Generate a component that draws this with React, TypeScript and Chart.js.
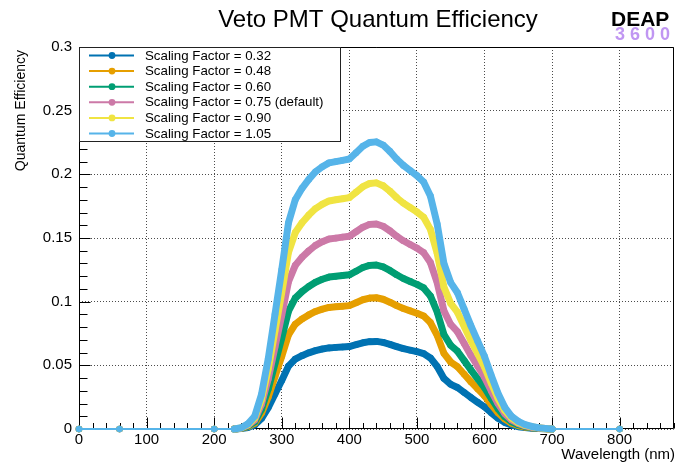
import React, { useEffect, useRef } from 'react';
import { Chart, registerables } from 'chart.js';

Chart.register(...registerables);

const FONT = '"Liberation Sans", Arial, Helvetica, sans-serif';

const chartTitle = 'Veto PMT Quantum Efficiency';
const xAxisTitle = 'Wavelength (nm)';
const yAxisTitle = 'Quantum Efficiency';

const wavelengths = [
  0, 60, 200,
  230, 240, 250, 260, 270, 280, 290, 300, 310, 320, 330, 340, 350, 360, 370, 380, 390, 400,
  410, 420, 430, 440, 450, 460, 470, 480, 490, 500, 510, 520, 530, 540, 550, 560, 570, 580,
  590, 600, 610, 620, 630, 640, 650, 660, 670, 680, 690, 700,
  800,
];

const sf032 = [
  0, 0, 0,
  0, 0.0003, 0.0012, 0.0031, 0.0082, 0.0168, 0.0275, 0.0381, 0.0494, 0.0549, 0.0576, 0.0598, 0.0616, 0.0628, 0.0637, 0.0641, 0.0644, 0.0647,
  0.0662, 0.0677, 0.0686, 0.0688, 0.068, 0.0665, 0.0647, 0.0631, 0.0619, 0.0607, 0.0592, 0.0558, 0.0491, 0.0397, 0.0351, 0.0326, 0.0287, 0.0247,
  0.021, 0.0174, 0.0128, 0.0085, 0.0052, 0.0031, 0.0018, 0.0011, 0.0006, 0.0003, 0.0002, 0,
  0,
];

const sf048 = [
  0, 0, 0,
  0, 0.0005, 0.0018, 0.0046, 0.0123, 0.0251, 0.0411, 0.0571, 0.074, 0.0823, 0.0864, 0.0896, 0.0923, 0.0941, 0.0955, 0.096, 0.0964, 0.0969,
  0.0992, 0.1015, 0.1028, 0.1031, 0.1019, 0.0996, 0.0969, 0.0946, 0.0928, 0.0909, 0.0887, 0.0836, 0.0736, 0.0594, 0.0526, 0.0489, 0.043, 0.037,
  0.0315, 0.026, 0.0192, 0.0128, 0.0078, 0.0046, 0.0027, 0.0016, 0.0009, 0.0005, 0.0002, 0,
  0,
];

const sf060 = [
  0, 0, 0,
  0, 0.0006, 0.0023, 0.0057, 0.0154, 0.0314, 0.0514, 0.0714, 0.0925, 0.1028, 0.1079, 0.1119, 0.1153, 0.1176, 0.1193, 0.1199, 0.1205, 0.1211,
  0.1239, 0.1268, 0.1285, 0.1288, 0.1273, 0.1245, 0.1211, 0.1182, 0.1159, 0.1136, 0.1108, 0.1045, 0.0919, 0.0742, 0.0657, 0.0611, 0.0537, 0.0463,
  0.0394, 0.0325, 0.024, 0.016, 0.0097, 0.0057, 0.0034, 0.002, 0.0011, 0.0006, 0.0003, 0,
  0,
];

const sf075 = [
  0, 0, 0,
  0, 0.0007, 0.0029, 0.0071, 0.0193, 0.0393, 0.0643, 0.0893, 0.1157, 0.1285, 0.1349, 0.1399, 0.1442, 0.1471, 0.1492, 0.1499, 0.1507, 0.1514,
  0.1549, 0.1585, 0.1607, 0.161, 0.1592, 0.1557, 0.1514, 0.1478, 0.1449, 0.1421, 0.1385, 0.1307, 0.115, 0.0928, 0.0821, 0.0764, 0.0671, 0.0578,
  0.0493, 0.0407, 0.03, 0.02, 0.0121, 0.0071, 0.0043, 0.0025, 0.0014, 0.0007, 0.0004, 0,
  0,
];

const sf090 = [
  0, 0, 0,
  0, 0.0009, 0.0034, 0.0086, 0.0231, 0.0471, 0.0771, 0.1071, 0.1388, 0.1543, 0.162, 0.168, 0.1731, 0.1765, 0.1791, 0.18, 0.1808, 0.1817,
  0.186, 0.1903, 0.1928, 0.1933, 0.1911, 0.1868, 0.1817, 0.1774, 0.174, 0.1705, 0.1663, 0.1568, 0.138, 0.1114, 0.0986, 0.0917, 0.0806, 0.0694,
  0.0591, 0.0488, 0.036, 0.024, 0.0146, 0.0086, 0.0051, 0.003, 0.0017, 0.0009, 0.0004, 0,
  0,
];

const sf105 = [
  0, 0, 0,
  0, 0.001, 0.004, 0.01, 0.027, 0.055, 0.09, 0.125, 0.162, 0.18, 0.189, 0.196, 0.202, 0.206, 0.209, 0.21, 0.211, 0.212,
  0.217, 0.222, 0.225, 0.2255, 0.223, 0.218, 0.212, 0.207, 0.203, 0.199, 0.194, 0.183, 0.161, 0.13, 0.115, 0.107, 0.094, 0.081,
  0.069, 0.057, 0.042, 0.028, 0.017, 0.01, 0.006, 0.0035, 0.002, 0.001, 0.0005, 0,
  0,
];

const seriesLabels = [
  'Scaling Factor = 0.32',
  'Scaling Factor = 0.48',
  'Scaling Factor = 0.60',
  'Scaling Factor = 0.75 (default)',
  'Scaling Factor = 0.90',
  'Scaling Factor = 1.05',
];
const seriesValues = [sf032, sf048, sf060, sf075, sf090, sf105];
const seriesColors = ['#0072B2', '#E69F00', '#009E73', '#CC79A7', '#F0E442', '#56B4E9'];

const xTickValues = [0, 100, 200, 300, 400, 500, 600, 700, 800];
const yTickValues = [0, 0.05, 0.1, 0.15, 0.2, 0.25, 0.3];
const yTickLabels = ['0', '0.05', '0.1', '0.15', '0.2', '0.25', '0.3'];

const whiteBg = {
  id: 'whiteBg',
  beforeDraw(chart: any) {
    const { ctx, width, height } = chart;
    ctx.save();
    ctx.fillStyle = '#ffffff';
    ctx.fillRect(0, 0, width, height);
    ctx.restore();
  },
};

const frameTicks = {
  id: 'frameTicks',
  beforeDatasetsDraw(chart: any) {
    const { ctx, chartArea: a, scales } = chart;
    const xs = scales.x;
    const ys = scales.y;
    const L = Math.round(a.left) + 0.5;
    const R = Math.round(a.right) - 0.5;
    const T = Math.round(a.top) + 0.5;
    const B = Math.round(a.bottom) - 0.5;
    ctx.save();
    ctx.strokeStyle = '#000';
    ctx.lineWidth = 1;
    ctx.beginPath();
    ctx.rect(L, T, R - L, B - T);
    ctx.stroke();
    ctx.beginPath();
    for (let i = 0; i <= 44; i++) {
      const v = i * 20;
      const px = Math.round(xs.getPixelForValue(v)) + 0.5;
      const len = i % 5 === 0 ? 11 : 5.5;
      ctx.moveTo(px, B);
      ctx.lineTo(px, B - len);
    }
    for (let i = 0; i <= 30; i++) {
      const v = i * 0.01;
      const py = Math.round(ys.getPixelForValue(v)) + 0.5;
      const len = i % 5 === 0 ? 11 : 8;
      ctx.moveTo(L, py);
      ctx.lineTo(L + len, py);
    }
    ctx.stroke();
    ctx.restore();
  },
};

const overlay = {
  id: 'overlay',
  afterDatasetsDraw(chart: any) {
    const { ctx } = chart;
    ctx.save();
    // legend box
    ctx.fillStyle = '#ffffff';
    ctx.fillRect(79.5, 47.5, 261, 94);
    ctx.strokeStyle = '#222';
    ctx.lineWidth = 1;
    ctx.strokeRect(79.5, 47.5, 261, 94);
    ctx.font = `13.3px ${FONT}`;
    ctx.textBaseline = 'middle';
    ctx.textAlign = 'left';
    seriesLabels.forEach((label, i) => {
      const y = 55.5 + i * 15.6;
      ctx.strokeStyle = seriesColors[i];
      ctx.lineWidth = 2;
      ctx.beginPath();
      ctx.moveTo(89, y);
      ctx.lineTo(134, y);
      ctx.stroke();
      ctx.fillStyle = seriesColors[i];
      ctx.beginPath();
      ctx.arc(112, y, 3.4, 0, Math.PI * 2);
      ctx.fill();
      ctx.fillStyle = '#000';
      ctx.fillText(label, 145, y + 0.5);
    });

    // title
    ctx.fillStyle = '#000';
    ctx.font = `24px ${FONT}`;
    ctx.textAlign = 'center';
    ctx.textBaseline = 'alphabetic';
    ctx.fillText(chartTitle, 378, 27);

    // logo
    ctx.font = `bold 21px ${FONT}`;
    ctx.textAlign = 'left';
    ctx.fillText('DEAP', 611, 25.5);
    ctx.fillStyle = '#c096f2';
    ctx.font = `bold 18px ${FONT}`;
    ctx.textAlign = 'center';
    const digits = ['3', '6', '0', '0'];
    digits.forEach((d, i) => {
      ctx.fillText(d, 620 + i * 15, 40);
    });

    // axis titles
    ctx.fillStyle = '#000';
    ctx.font = `15px ${FONT}`;
    ctx.textAlign = 'right';
    ctx.textBaseline = 'alphabetic';
    ctx.fillText(xAxisTitle, 675, 459);

    ctx.font = `14px ${FONT}`;
    ctx.translate(25, 50);
    ctx.rotate(-Math.PI / 2);
    ctx.textAlign = 'right';
    ctx.fillText(yAxisTitle, 0, 0);
    ctx.restore();
  },
};

export default function App() {
  const canvasRef = useRef<HTMLCanvasElement | null>(null);

  useEffect(() => {
    const canvas = canvasRef.current;
    if (!canvas) return;
    const datasets = seriesValues.map((vals, si) => ({
      label: seriesLabels[si],
      data: wavelengths.map((x, i) => ({ x, y: vals[i] })),
      borderColor: seriesColors[si],
      backgroundColor: seriesColors[si],
      pointBackgroundColor: seriesColors[si],
      pointBorderWidth: 0,
      pointRadius: 3.3,
      pointHoverRadius: 3.3,
      borderWidth: 2,
      borderCapStyle: 'round',
      borderJoinStyle: 'round',
      tension: 0,
      fill: false,
      clip: false,
      order: seriesValues.length - si,
      segment: {
        borderWidth: (c: any) => (c.p1.parsed.x - c.p0.parsed.x <= 10 ? 7 : 2),
      },
    }));

    const chart = new Chart(canvas, {
      type: 'line',
      data: { datasets: datasets as any },
      options: {
        responsive: false,
        animation: false,
        events: [],
        layout: { padding: { top: 47, right: 2, left: 0, bottom: 0 } },
        plugins: {
          legend: { display: false },
          title: { display: false },
          tooltip: { enabled: false },
        },
        scales: {
          x: {
            type: 'linear',
            position: 'bottom',
            min: 0,
            max: 880,
            afterBuildTicks: (s: any) => {
              s.ticks = xTickValues.map((v) => ({ value: v }));
            },
            afterFit: (s: any) => {
              s.height = 38;
            },
            grid: { color: 'rgba(0,0,0,0.7)', lineWidth: 1, drawTicks: false },
            border: { display: false, dash: [1, 2] },
            ticks: {
              color: '#000',
              font: { family: FONT, size: 15 },
              padding: 2,
              maxRotation: 0,
              autoSkip: false,
              callback: (v: any) => String(v),
            },
          },
          y: {
            type: 'linear',
            min: 0,
            max: 0.3,
            afterBuildTicks: (s: any) => {
              s.ticks = yTickValues.map((v) => ({ value: v }));
            },
            afterFit: (s: any) => {
              s.width = 79;
            },
            grid: { color: 'rgba(0,0,0,0.7)', lineWidth: 1, drawTicks: false },
            border: { display: false, dash: [1, 2] },
            ticks: {
              color: '#000',
              font: { family: FONT, size: 15 },
              padding: 7,
              autoSkip: false,
              callback: (v: any) => {
                const idx = yTickValues.findIndex((t) => Math.abs(t - v) < 1e-9);
                return idx >= 0 ? yTickLabels[idx] : '';
              },
            },
          },
        },
      },
      plugins: [whiteBg, frameTicks, overlay],
    });

    return () => {
      chart.destroy();
    };
  }, []);

  return (
    <div style={{ position: 'fixed', left: 0, top: 0, width: 677, height: 467, background: '#fff' }}>
      <canvas ref={canvasRef} width={677} height={467} style={{ display: 'block', width: 677, height: 467 }} />
    </div>
  );
}
